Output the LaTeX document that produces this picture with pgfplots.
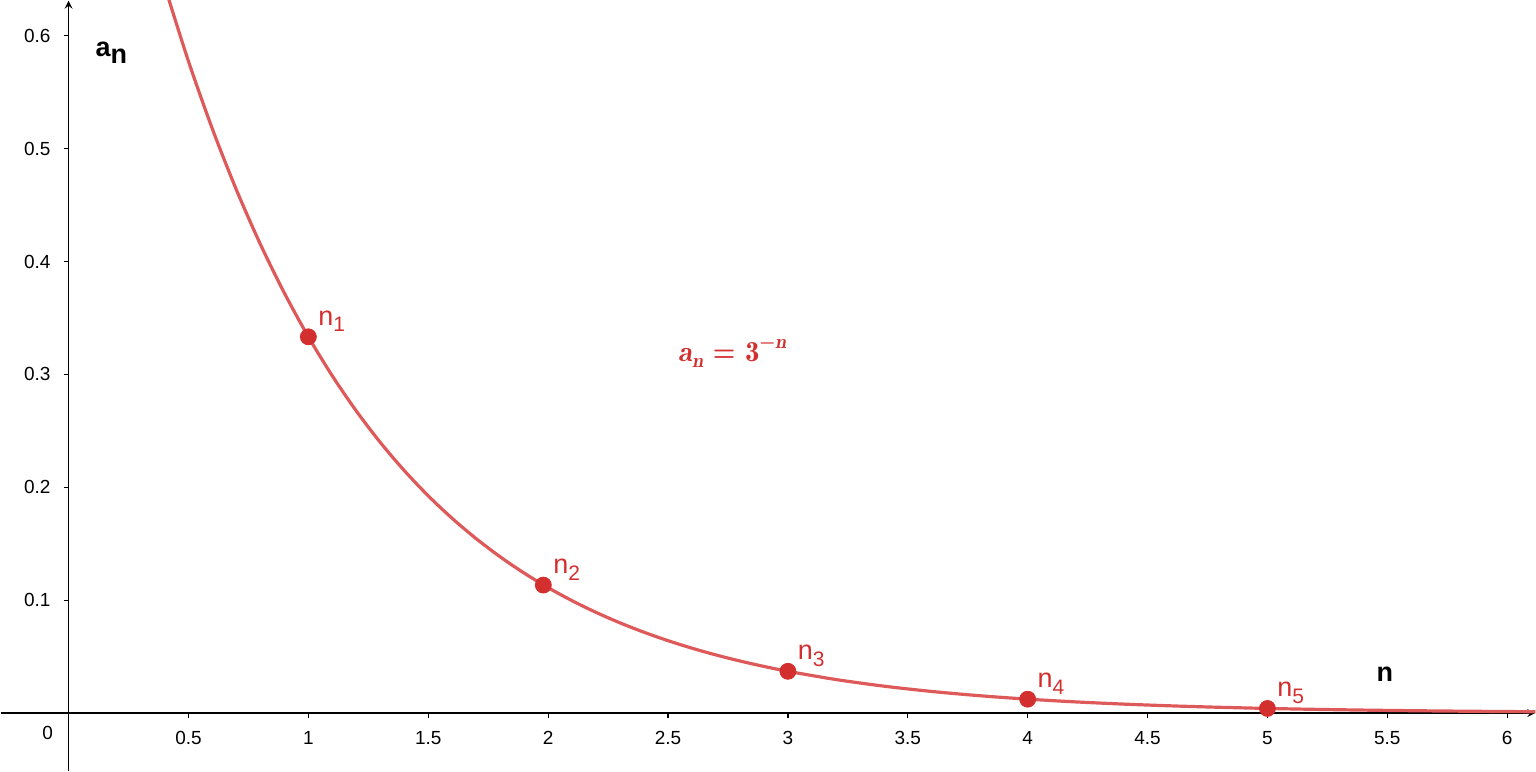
\documentclass[border=0pt]{standalone}
\usepackage{pgfplots}
\pgfplotsset{compat=1.18}
\usepackage{fontspec}
\setmainfont{Liberation Sans}
\definecolor{curvered}{RGB}{222,90,90}
\definecolor{ptred}{RGB}{211,47,47}
\begin{document}
\begin{tikzpicture}
\begin{axis}[
  scale only axis, width=768pt, height=385.5pt,
  xmin=-0.283, xmax=6.117, ymin=-0.0513, ymax=0.631,
  axis lines=middle, axis line style={line width=0.75pt, black},
  xtick={0.5,1,...,6}, ytick={0.1,0.2,...,0.6},
  hide obscured x ticks=false,
  extra x ticks={0}, extra x tick style={major tick length=0pt, tick label style={xshift=-10.5pt}},
  tick align=outside, major tick length=2.5pt,
  tick style={black, line width=0.6pt},
  /pgf/number format/assume math mode=true,
  ticklabel style={font=\fontsize{9.5}{11}\selectfont},
  xticklabel style={yshift=-3pt},
  yticklabel style={xshift=-3pt},
  xlabel={n},
  every axis x label/.style={at={(axis description cs:0.902,0.125)}, anchor=center, font=\fontsize{13.5}{15}\selectfont\bfseries},
  ylabel={a\lower0.5ex\hbox{n}},
  every axis y label/.style={at={(axis description cs:0.0573,0.9326)}, anchor=west, font=\fontsize{13.5}{15}\selectfont\bfseries},
  title={a\lower0.45ex\hbox{\fontsize{10}{12}\selectfont n}\ \upshape=\ 3\raise1.0ex\hbox{\fontsize{10}{12}\selectfont\char"2212\itshape n}},
  every axis title/.style={at={(axis description cs:0.4766,0.5422)}, anchor=center, text=ptred, font=\fontfamily{lmr}\fontsize{14.5}{16}\selectfont\bfseries\itshape},
]
\addplot[curvered, line width=1.6pt, smooth] coordinates {
(0.38,0.6587) (0.4,0.64439) (0.5,0.57735) (0.6,0.51728) (0.7,0.46346) (0.8,0.41524) (0.9,0.37204)
(1.0,0.33333) (1.1,0.29865) (1.2,0.26758) (1.3,0.23974) (1.4,0.21480) (1.5,0.19245)
(1.6,0.17243) (1.7,0.15449) (1.8,0.13841) (1.9,0.12401) (2.0,0.11111) (2.1,0.09955)
(2.2,0.08919) (2.3,0.07991) (2.4,0.07160) (2.5,0.06415) (2.6,0.05748) (2.7,0.05150)
(2.8,0.04614) (2.9,0.04134) (3.0,0.03704) (3.2,0.02973) (3.4,0.02387) (3.6,0.01916)
(3.8,0.01538) (4.0,0.01235) (4.2,0.00991) (4.4,0.00796) (4.6,0.00639) (4.8,0.00513)
(5.0,0.00412) (5.2,0.00330) (5.4,0.00265) (5.6,0.00213) (5.8,0.00171) (6.0,0.00137) (6.2,0.00110)
};
\addplot[only marks, mark=*, mark size=4pt, color=ptred,
  point meta=explicit symbolic,
  nodes near coords={n\lower0.45ex\hbox{\fontsize{10.5}{12}\selectfont\pgfplotspointmeta}},
  nodes near coords style={anchor=south west, font=\fontsize{13.5}{15}\selectfont, xshift=1.5pt, yshift=-1pt}]
  table[meta=lab] {
x y lab
1 0.3333 1
1.98 0.1134 2
3 0.0370 3
4 0.0123 4
5 0.0041 5
};
\end{axis}
\end{tikzpicture}
\end{document}
